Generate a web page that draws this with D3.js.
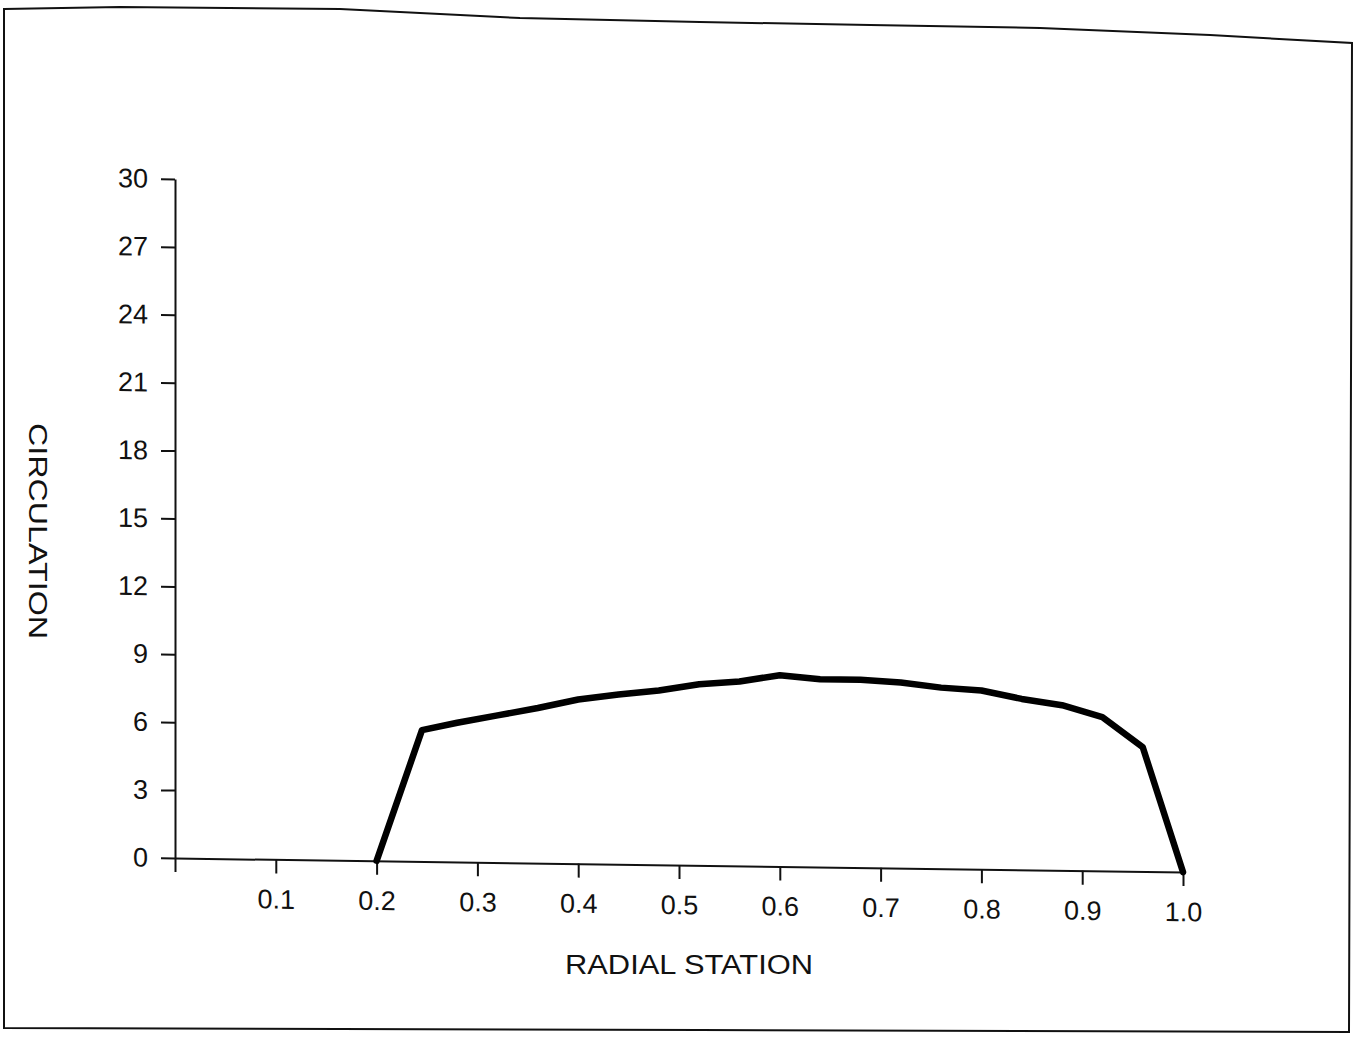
<!DOCTYPE html>
<html>
<head>
<meta charset="utf-8">
<script src="https://cdn.jsdelivr.net/npm/d3@7"></script>
<style>
  html, body { margin: 0; padding: 0; background: #fff; }
  svg { display: block; }
  text { font-family: "Liberation Sans", Arial, Helvetica, sans-serif; fill: #111; }
</style>
</head>
<body>
<svg id="chart" width="1356" height="1043"></svg>
<script>
// Circulation distribution along the blade span
const radialStation = [0.20, 0.245, 0.28, 0.32, 0.36, 0.40, 0.44, 0.48, 0.52, 0.56, 0.60,
                       0.64, 0.68, 0.72, 0.76, 0.80, 0.84, 0.88, 0.92, 0.96, 1.00];
const circulation   = [0, 5.8, 6.15, 6.5, 6.85, 7.25, 7.5, 7.7, 8.0, 8.15, 8.45,
                       8.3, 8.3, 8.2, 8.0, 7.9, 7.55, 7.3, 6.8, 5.5, 0];
const xTickValues = [0, 0.1, 0.2, 0.3, 0.4, 0.5, 0.6, 0.7, 0.8, 0.9, 1.0];
const xTickLabels = ["", "0.1", "0.2", "0.3", "0.4", "0.5", "0.6", "0.7", "0.8", "0.9", "1.0"];
const yTickValues = [0, 3, 6, 9, 12, 15, 18, 21, 24, 27, 30];
const xTitle = "RADIAL STATION";
const yTitle = "CIRCULATION";

const svg = d3.select("#chart");

// Page frame (slightly warped sheet outline)
const frame = [[4, 9], [120, 7], [340, 9], [520, 18], [700, 22], [870, 25], [1040, 28],
               [1210, 35], [1352, 43], [1349, 1032], [700, 1030], [4, 1028]];
svg.append("path")
  .attr("d", d3.line()(frame) + "Z")
  .attr("fill", "none")
  .attr("stroke", "#111")
  .attr("stroke-width", 2);

const plotW = 1008, plotH = 679;
const x = d3.scaleLinear().domain([0, 1]).range([0, plotW]);
const y = d3.scaleLinear().domain([0, 30]).range([0, -plotH]);

// Plot area, with the slight shear of the printed sheet
const g = svg.append("g")
  .attr("transform", "translate(175,858) skewY(0.8)");

const xAxis = d3.axisBottom(x)
  .tickValues(xTickValues)
  .tickFormat((d, i) => xTickLabels[i])
  .tickSize(14).tickSizeOuter(0).tickPadding(16);

const yAxis = d3.axisLeft(y)
  .tickValues(yTickValues)
  .tickFormat(d3.format("d"))
  .tickSize(14).tickSizeOuter(0).tickPadding(13);

function styleAxis(sel) {
  sel.selectAll("path.domain").attr("stroke", "#111").attr("stroke-width", 2);
  sel.selectAll(".tick line").attr("stroke", "#111").attr("stroke-width", 2);
  sel.selectAll(".tick text")
    .attr("font-size", 27)
    .attr("font-family", "'Liberation Sans', Arial, sans-serif")
    .attr("fill", "#111");
}

g.append("g").call(xAxis).call(styleAxis);
g.append("g").call(yAxis).call(styleAxis);

const pts = radialStation.map((r, i) => [r, circulation[i]]);
g.append("path")
  .datum(pts)
  .attr("fill", "none")
  .attr("stroke", "#000")
  .attr("stroke-width", 6.5)
  .attr("stroke-linejoin", "round")
  .attr("stroke-linecap", "round")
  .attr("d", d3.line().x(d => x(d[0])).y(d => y(d[1])));

// Axis titles
svg.append("text")
  .attr("x", 689).attr("y", 974)
  .attr("text-anchor", "middle")
  .attr("font-size", 27)
  .attr("textLength", 248)
  .attr("lengthAdjust", "spacingAndGlyphs")
  .text(xTitle);

svg.append("text")
  .attr("transform", "translate(29,531) rotate(90)")
  .attr("text-anchor", "middle")
  .attr("font-size", 25)
  .attr("textLength", 216)
  .attr("lengthAdjust", "spacingAndGlyphs")
  .text(yTitle);
</script>
</body>
</html>
